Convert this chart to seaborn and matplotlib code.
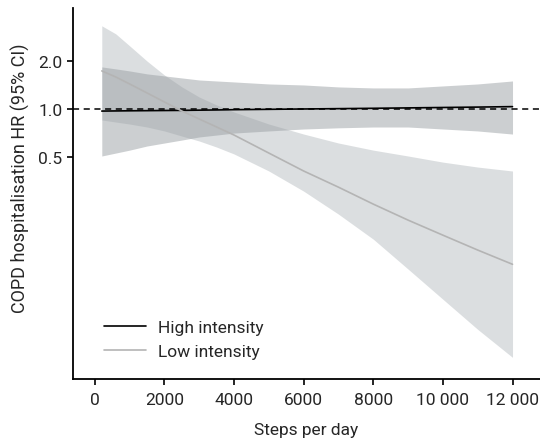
import numpy as np
import pandas as pd
import seaborn as sns
import matplotlib
matplotlib.use("Agg")
import matplotlib.pyplot as plt
from matplotlib.ticker import FixedLocator, FixedFormatter, NullLocator

# values (hazard ratios, log axis)
steps = [200, 600, 1000, 1500, 2000, 2500, 3000, 3500, 4000,
         5000, 6000, 7000, 8000, 9000, 10000, 11000, 12000]

high_hr = [0.970, 0.972, 0.974, 0.976, 0.978, 0.980, 0.983, 0.986, 0.990,
           0.995, 1.000, 1.005, 1.010, 1.016, 1.022, 1.028, 1.035]
high_lo = [0.504, 0.526, 0.549, 0.583, 0.609, 0.636, 0.665, 0.684, 0.704,
           0.726, 0.747, 0.760, 0.769, 0.769, 0.747, 0.726, 0.694]
high_hi = [1.846, 1.794, 1.741, 1.668, 1.619, 1.572, 1.526, 1.504, 1.483,
           1.440, 1.419, 1.379, 1.359, 1.359, 1.399, 1.440, 1.504]

low_hr = [1.741, 1.595, 1.440, 1.263, 1.107, 0.971, 0.864, 0.769, 0.684,
          0.526, 0.405, 0.320, 0.250, 0.198, 0.159, 0.128, 0.104]
low_lo = [0.852, 0.827, 0.803, 0.769, 0.726, 0.674, 0.627, 0.574, 0.519,
          0.405, 0.302, 0.216, 0.150, 0.097, 0.0625, 0.0403, 0.0268]
low_hi = [3.36, 2.99, 2.51, 2.01, 1.64, 1.38, 1.19, 1.06, 0.957,
          0.803, 0.694, 0.609, 0.549, 0.504, 0.461, 0.429, 0.405]

df = pd.DataFrame({
    "Steps": steps * 2,
    "HR": high_hr + low_hr,
    "Group": ["High intensity"] * len(steps) + ["Low intensity"] * len(steps),
})

sns.set_style("ticks")
plt.rcParams["font.family"] = ["Roboto", "DejaVu Sans"]
fs = 12.5

fig = plt.figure(figsize=(5.4, 4.39), dpi=100)
ax = fig.add_axes([0.135, 0.134, 0.865, 0.846])

# confidence bands
ax.fill_between(steps, low_lo, low_hi, color="#b8bec2", alpha=0.5, lw=0)
ax.fill_between(steps, high_lo, high_hi, color="#9aa0a4", alpha=0.5, lw=0)

ax.axhline(1.0, color="black", lw=1.1, ls=(0, (4, 3)), zorder=3)

sns.lineplot(data=df, x="Steps", y="HR", hue="Group",
             palette={"High intensity": "black", "Low intensity": "#b4b4b4"},
             linewidth=1.2, ax=ax, zorder=4)

ax.set_yscale("log")
ax.set_xlim(-630, 12790)
ax.set_ylim(0.0195, 4.37)
ax.yaxis.set_major_locator(FixedLocator([0.5, 1.0, 2.0]))
ax.yaxis.set_major_formatter(FixedFormatter(["0.5", "1.0", "2.0"]))
ax.yaxis.set_minor_locator(NullLocator())
ax.set_xticks([0, 2000, 4000, 6000, 8000, 10000, 12000])
ax.set_xticklabels(["0", "2000", "4000", "6000", "8000", "10 000", "12 000"])
ax.tick_params(labelsize=fs, width=1.2, length=4, color="black")
ax.tick_params(axis="x", pad=5)

ax.set_xlabel("Steps per day", fontsize=fs, labelpad=11)
ax.set_ylabel("COPD hospitalisation HR (95% CI)", fontsize=13)
ax.yaxis.set_label_coords(-0.092, 0.544)

for side in ["top", "right"]:
    ax.spines[side].set_visible(False)
for side in ["left", "bottom"]:
    ax.spines[side].set_linewidth(1.3)
    ax.spines[side].set_color("black")

ax.legend(title=None, frameon=False, loc="lower left", bbox_to_anchor=(0.034, 0.012),
          fontsize=fs, handlelength=2.4, handletextpad=0.7, labelspacing=0.5)

fig.savefig("out.png", dpi=100)
